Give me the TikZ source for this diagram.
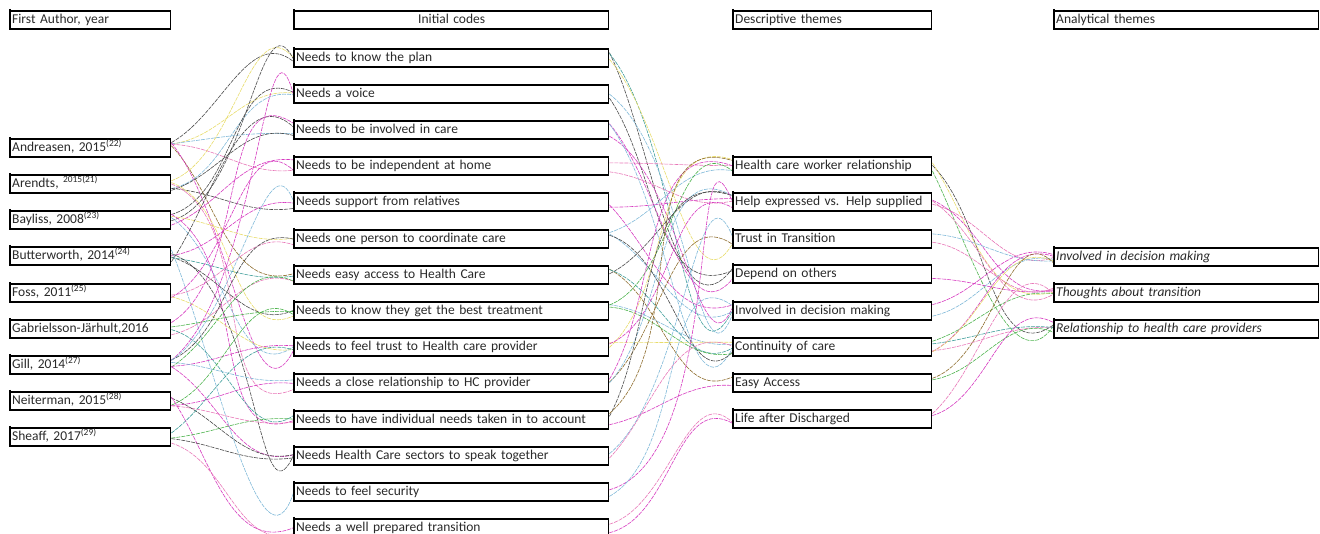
\documentclass[tikz,border=0pt]{standalone}
\usepackage{fontspec}
\setmainfont{Carlito}
\usetikzlibrary{backgrounds}
\definecolor{txt}{HTML}{2A2A2A}
\definecolor{cyl}{HTML}{E8DC6A}
\definecolor{clb}{HTML}{7FB8D8}
\definecolor{cgy}{HTML}{4A4A4A}
\definecolor{cmg}{HTML}{D63AC0}
\definecolor{cpk}{HTML}{E878B8}
\definecolor{cgn}{HTML}{4DB34D}
\definecolor{cbr}{HTML}{8C6A2A}
\definecolor{ctl}{HTML}{3F9E9A}
\tikzset{
  box/.style={draw=black, line width=1.4pt, fill=white, anchor=west, inner sep=1.5pt,
    text height=9.5pt, text depth=3pt, font=\fontsize{13.5}{15}\selectfont, text=txt,
    align=left, minimum height=18pt},
  wa/.style={text width=157pt},
  wb/.style={text width=311pt},
  wc/.style={text width=195pt},
  wd/.style={text width=261pt},
  conn/.style={line width=0.6pt, dash pattern=on 4pt off 1pt},
  ledge/.style={line width=2.6pt, black}
}
\newcommand\lnkk[3]{%
  \pgfpointanchor{#1}{east}\pgfgetlastxy{\xa}{\ya}%
  \pgfpointanchor{#2}{west}\pgfgetlastxy{\xb}{\yb}%
  \pgfmathsetmacro\yA{6.5*rand}\pgfmathsetmacro\yB{6.5*rand}%
  \pgfmathsetmacro\dY{(\yb-\ya)/1pt}%
  \pgfmathsetmacro\dir{\dY<0 ? -1 : 1}%
  \pgfmathsetmacro\kmax{min(75,abs(\dY)*0.45)}%
  \pgfmathsetmacro\oA{\dir*\kmax*(0.2+0.8*rnd)}%
  \pgfmathsetmacro\oB{180-\dir*\kmax*(0.2+0.8*rnd)}%
  \draw[conn,#3] ([yshift=\yA pt]#1.east) to[out=\oA,in=\oB] ([yshift=\yB pt]#2.west);}
\begin{document}
\begin{tikzpicture}[x=1pt,y=-1pt]
\useasboundingbox (0,0) rectangle (1320,533);
\pgfmathsetseed{17}
% headers
\node[box,wa] (h1) at (10,20) {First Author, year};
\node[box,wb,align=center] (h2) at (294,20) {Initial codes};
\node[box,wc] (h3) at (733,20) {Descriptive themes};
\node[box,wd] (h4) at (1054,20) {Analytical themes};
% authors
\node[box,wa] (a1) at (10,148) {Andreasen, 2015\textsuperscript{(22)}};
\node[box,wa] (a2) at (10,184) {Arendts, \textsuperscript{2015(21)}};
\node[box,wa] (a3) at (10,220) {Bayliss, 2008\textsuperscript{(23)}};
\node[box,wa] (a4) at (10,256) {Butterworth, 2014\textsuperscript{(24)}};
\node[box,wa] (a5) at (10,293) {Foss, 2011\textsuperscript{(25)}};
\node[box,wa] (a6) at (10,329) {Gabrielsson-Järhult,2016};
\node[box,wa] (a7) at (10,365) {Gill, 2014\textsuperscript{(27)}};
\node[box,wa] (a8) at (10,401) {Neiterman, 2015\textsuperscript{(28)}};
\node[box,wa] (a9) at (10,437) {Sheaff, 2017\textsuperscript{(29)}};
% initial codes
\node[box,wb] (c1) at (294,58) {Needs to know the plan};
\node[box,wb] (c2) at (294,94) {Needs a voice};
\node[box,wb] (c3) at (294,130) {Needs to be involved in care};
\node[box,wb] (c4) at (294,166) {Needs to be independent at home};
\node[box,wb] (c5) at (294,202) {Needs support from relatives};
\node[box,wb] (c6) at (294,239) {Needs one person to coordinate care};
\node[box,wb] (c7) at (294,275) {Needs easy access to Health Care};
\node[box,wb] (c8) at (294,311) {Needs to know they get the best treatment};
\node[box,wb] (c9) at (294,347) {Needs to feel trust to Health care provider};
\node[box,wb] (c10) at (294,383) {Needs a close relationship to HC provider};
\node[box,wb] (c11) at (294,420) {Needs to have individual needs taken in to account};
\node[box,wb] (c12) at (294,456) {Needs Health Care sectors to speak together};
\node[box,wb] (c13) at (294,492) {Needs to feel security};
\node[box,wb] (c14) at (294,528) {Needs a well prepared transition};
% descriptive themes
\node[box,wc] (d1) at (733,166) {Health care worker relationship};
\node[box,wc] (d2) at (733,202) {Help expressed vs. Help supplied};
\node[box,wc] (d3) at (733,239) {Trust in Transition};
\node[box,wc] (d4) at (733,274) {Depend on others};
\node[box,wc] (d5) at (733,311) {Involved in decision making};
\node[box,wc] (d6) at (733,347) {Continuity of care};
\node[box,wc] (d7) at (733,383) {Easy Access};
\node[box,wc] (d8) at (733,419) {Life after Discharged};
% analytical themes
\node[box,wd] (e1) at (1054,257) {\itshape Involved in decision making};
\node[box,wd] (e2) at (1054,293) {\itshape Thoughts about transition};
\node[box,wd] (e3) at (1054,329) {\itshape Relationship to health care providers};
% thick left edges
\foreach \n in {h1,h2,h3,h4,a1,a2,a3,a4,a5,a6,a7,a8,a9,c1,c2,c3,c4,c5,c6,c7,c8,c9,c10,c11,c12,c13,c14,d1,d2,d3,d4,d5,d6,d7,d8,e1,e2,e3}
  \draw[ledge] ([yshift=1.5pt]\n.north west) -- ([yshift=-0.5pt]\n.south west);
\begin{scope}[on background layer]
\foreach \a/\b/\c in {
 a1/c1/cgy, a1/c2/cyl, a1/c4/cpk, a1/c3/clb, a1/c7/cbr, a1/c9/cmg,
 a2/c1/cyl, a2/c2/clb, a2/c3/cgy, a2/c5/cgy, a2/c8/cyl, a2/c10/cpk,
 a3/c1/cgy, a3/c2/cgy, a3/c4/cmg, a3/c6/cyl, a3/c9/clb, a3/c11/cmg,
 a4/c3/cgy, a4/c5/cmg, a4/c8/cgy, a4/c7/ctl, a4/c12/cgy, a4/c13/clb,
 a5/c4/cmg, a5/c6/cpk, a5/c9/cyl,
 a6/c3/cmg, a6/c7/cpk, a6/c8/cgn, a6/c11/ctl,
 a7/c2/cmg, a7/c6/cgy, a7/c7/cgn, a7/c9/cmg, a7/c10/clb, a7/c12/cmg, a7/c5/clb,
 a8/c8/cgn, a8/c10/cmg, a8/c11/cpk, a8/c12/cgy, a8/c14/cmg,
 a9/c9/ctl, a9/c12/cgy, a9/c14/cpk, a9/c11/cgn,
 c1/d4/cgy, c1/d5/ctl, c1/d3/cyl,
 c2/d5/clb, c2/d4/cgy,
 c3/d5/cmg, c3/d4/cmg, c3/d6/clb,
 c4/d2/cpk, c4/d1/cpk,
 c5/d2/cmg, c5/d5/cmg,
 c6/d5/clb, c6/d6/cgy, c6/d1/clb,
 c7/d7/cbr, c7/d2/cgy, c7/d6/ctl,
 c8/d6/cgn, c8/d6/clb, c8/d1/cgn,
 c9/d1/cyl, c9/d6/cyl, c9/d2/cmg,
 c10/d1/cmg, c10/d3/cbr, c10/d2/clb,
 c11/d2/cgy, c11/d1/cbr, c11/d7/cmg,
 c12/d3/clb, c12/d6/cpk,
 c13/d2/cmg, c13/d5/clb,
 c14/d8/cmg, c14/d8/cpk,
 d1/e3/cgy, d1/e2/cyl, d1/e3/cgn,
 d2/e1/cpk, d2/e2/cmg, d2/e2/cpk,
 d3/e2/cpk, d3/e1/clb,
 d4/e2/cmg,
 d5/e1/clb, d5/e1/cmg,
 d6/e1/cmg, d6/e2/cgn, d6/e3/cpk, d6/e3/ctl, d6/e1/cyl,
 d7/e3/cgn, d7/e1/cbr,
 d8/e3/cmg, d8/e2/cpk}
 \lnkk{\a}{\b}{\c};
\end{scope}
\end{tikzpicture}
\end{document}
